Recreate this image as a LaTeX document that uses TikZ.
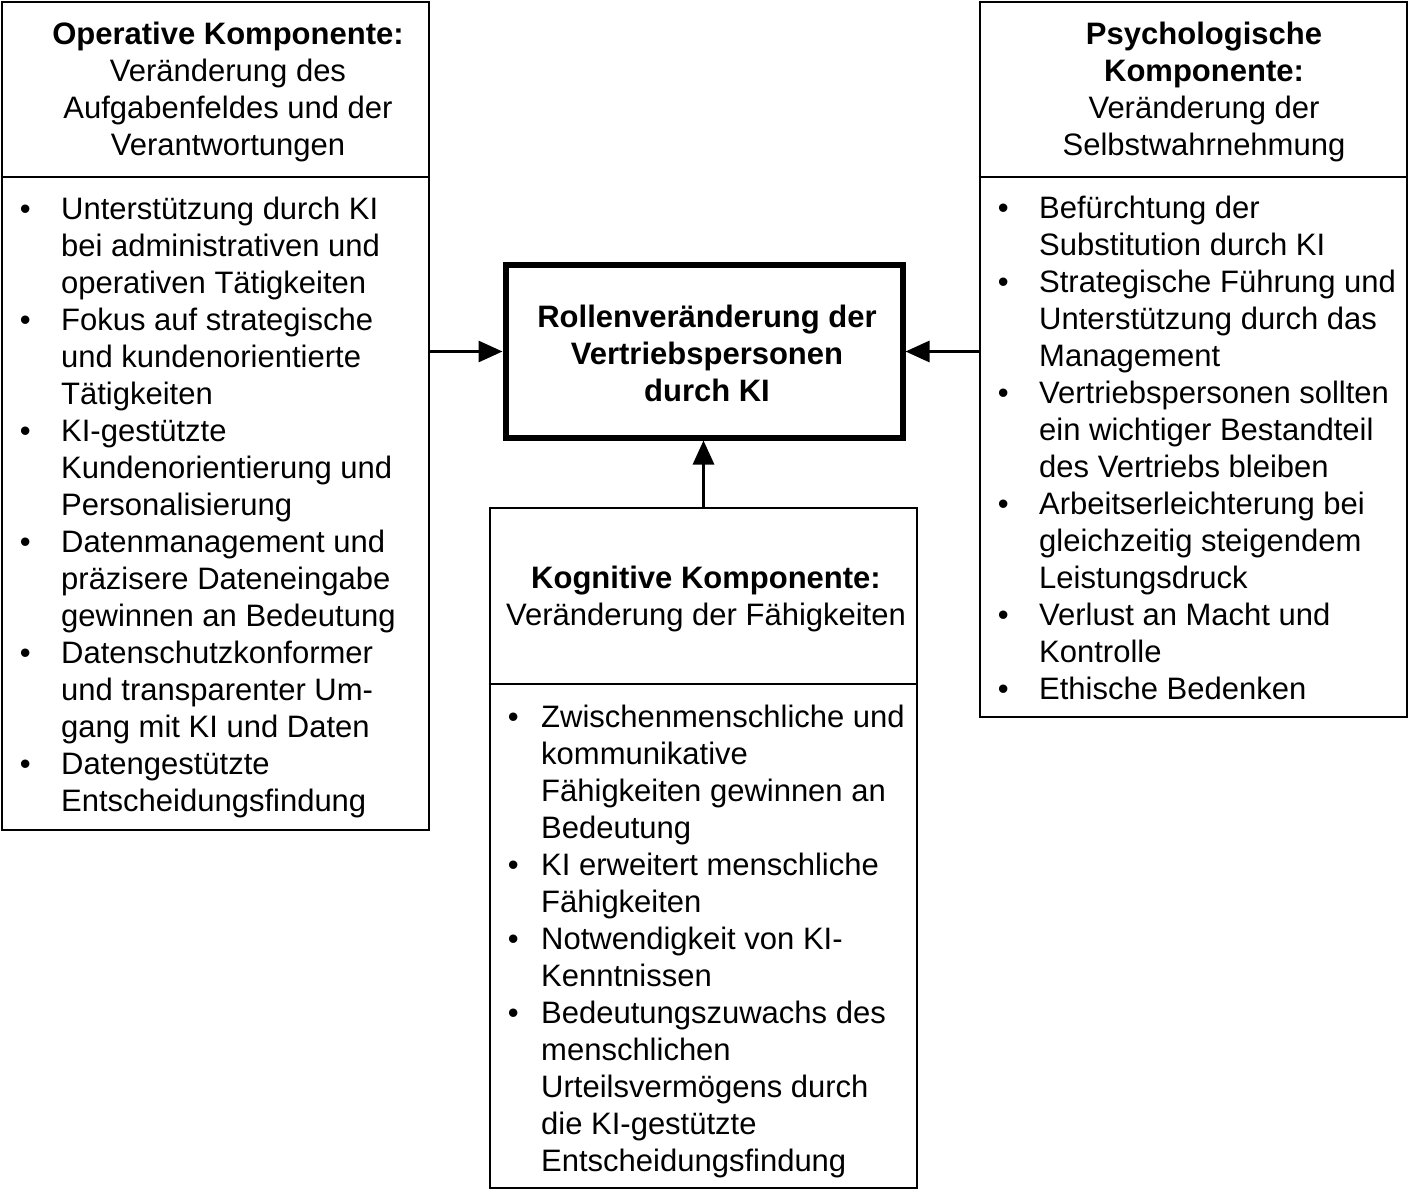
\documentclass[tikz,border=0pt]{standalone}
\usepackage{fontspec}
\setmainfont{Liberation Sans}
\usetikzlibrary{arrows.meta}
\newcommand{\mybul}[1]{\llap{•\hspace{#1}}}
\begin{document}
\begin{tikzpicture}[x=1pt,y=-1pt,
  txt/.style={font={\fontsize{31pt}{37pt}\selectfont}, inner sep=0pt},
  box/.style={draw, line width=2.8pt, rectangle, inner sep=0pt},
  mainbox/.style={draw, line width=6pt, rectangle, inner sep=0pt},
  arr/.style={line width=3pt, -{Triangle[length=24pt,width=21pt]}},
  divider/.style={line width=2.8pt}]
\useasboundingbox (0,0) rectangle (1409,1190);
% boxes
\node[box, minimum width=427pt, minimum height=828pt] (L) at (215.5,416) {};
\node[box, minimum width=427pt, minimum height=715pt] (R) at (1193.5,359.5) {};
\node[box, minimum width=427pt, minimum height=680pt] (B) at (703.5,848) {};
\node[mainbox, minimum width=397pt, minimum height=172pt] (C) at (704,351.5) {};
% dividers
\coordinate (dl) at (0,177);
\coordinate (db) at (0,684);
\draw[divider] (L.west |- dl) -- (L.east |- dl);
\draw[divider] (R.west |- dl) -- (R.east |- dl);
\draw[divider] (B.west |- db) -- (B.east |- db);
% headers
\node[txt, align=center] (Lh) at (228,92) {\textbf{Operative Komponente:}\\Veränderung des\\Aufgabenfeldes und der\\Verantwortungen};
\node[txt, align=center] (Rh) at (1204,92) {\textbf{Psychologische}\\\textbf{Komponente:}\\Veränderung der\\Selbstwahrnehmung};
\node[txt, align=center] (Bh) at (706,598.5) {\textbf{Kognitive Komponente:}\\Veränderung der Fähigkeiten};
\node[txt, align=center] (Ct) at (707,353) {\textbf{Rollenveränderung der}\\\textbf{Vertriebspersonen}\\\textbf{durch KI}};
% lists (anchor = baseline of last line)
\node[txt, align=left, anchor=base west] (Ll) at (61,811) {%
\mybul{30.5pt}Unterstützung durch KI\\bei administrativen und\\operativen Tätigkeiten\\
\mybul{30.5pt}Fokus auf strategische\\und kundenorientierte\\Tätigkeiten\\
\mybul{30.5pt}KI-gestützte\\Kundenorientierung und\\Personalisierung\\
\mybul{30.5pt}Datenmanagement und\\präzisere Dateneingabe\\gewinnen an Bedeutung\\
\mybul{30.5pt}Datenschutzkonformer\\und transparenter Um-\\gang mit KI und Daten\\
\mybul{30.5pt}Datengestützte\\Entscheidungsfindung};
\node[txt, align=left, anchor=base west] (Rl) at (1039,699) {%
\mybul{30.5pt}Befürchtung der\\Substitution durch KI\\
\mybul{30.5pt}Strategische Führung und\\Unterstützung durch das\\Management\\
\mybul{30.5pt}Vertriebspersonen sollten\\ein wichtiger Bestandteil\\des Vertriebs bleiben\\
\mybul{30.5pt}Arbeitserleichterung bei\\gleichzeitig steigendem\\Leistungsdruck\\
\mybul{30.5pt}Verlust an Macht und\\Kontrolle\\
\mybul{30.5pt}Ethische Bedenken};
\node[txt, align=left, anchor=base west] (Bl) at (541,1171) {%
\mybul{22.5pt}Zwischenmenschliche und\\kommunikative\\Fähigkeiten gewinnen an\\Bedeutung\\
\mybul{22.5pt}KI erweitert menschliche\\Fähigkeiten\\
\mybul{22.5pt}Notwendigkeit von KI-\\Kenntnissen\\
\mybul{22.5pt}Bedeutungszuwachs des\\menschlichen\\Urteilsvermögens durch\\die KI-gestützte\\Entscheidungsfindung};
% connectors
\draw[arr] (L.east |- C.west) -- (C.west);
\draw[arr] (R.west |- C.east) -- (C.east);
\draw[arr] (B.north) -- (C.south -| B.north);
\end{tikzpicture}
\end{document}
